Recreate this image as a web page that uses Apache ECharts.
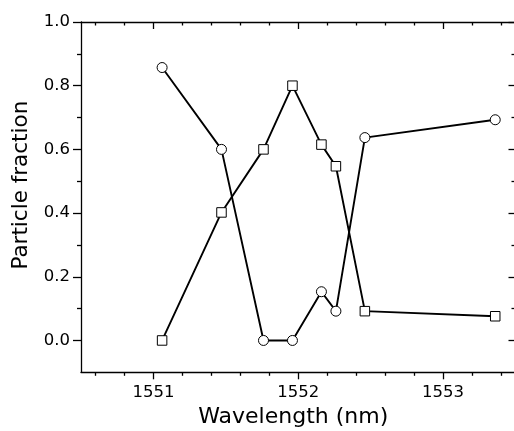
<!DOCTYPE html>
<html>
<head>
<meta charset="utf-8">
<script src="https://cdn.jsdelivr.net/npm/echarts@6/dist/echarts.min.js"></script>
<style>
html,body{margin:0;padding:0;background:#fff;}
#chart{width:514px;height:431px;}
</style>
</head>
<body>
<div id="chart"></div>
<script>
// Data
var wavelength = [1551.06, 1551.47, 1551.76, 1551.96, 1552.16, 1552.26, 1552.46, 1553.36];
var circleFraction = [0.857, 0.600, 0.000, 0.000, 0.153, 0.092, 0.637, 0.693];
var squareFraction = [0.000, 0.402, 0.600, 0.800, 0.615, 0.547, 0.092, 0.076];

// Tick values
var xMajorTicks = [1551, 1552, 1553];
var xMinorTicks = [1550.6, 1550.8, 1551.2, 1551.4, 1551.6, 1551.8, 1552.2, 1552.4, 1552.6, 1552.8, 1553.2, 1553.4];
var yMajorTicks = [0.0, 0.2, 0.4, 0.6, 0.8, 1.0];
var yMinorTicks = [0.1, 0.3, 0.5, 0.7, 0.9];

var xTitle = 'Wavelength (nm)';
var yTitle = 'Particle fraction';

var FONT = 'DejaVu Sans';
var AX = {color: '#000', width: 1.3};

function pairs(xs, ys) {
  return xs.map(function (x, i) { return [x, ys[i]]; });
}

function xAx(opts) {
  return Object.assign({
    type: 'value', min: 1550.5, max: 1553.5,
    splitLine: {show: false},
    axisLine: {show: false, onZero: false, lineStyle: AX},
    axisTick: {show: false},
    axisLabel: {show: false}
  }, opts);
}
function yAx(opts) {
  return Object.assign({
    type: 'value', min: -0.1, max: 1.0,
    splitLine: {show: false},
    axisLine: {show: false, onZero: false, lineStyle: AX},
    axisTick: {show: false},
    axisLabel: {show: false}
  }, opts);
}

var chart = echarts.init(document.getElementById('chart'), null, {renderer: 'canvas'});
chart.setOption({
  animation: false,
  backgroundColor: '#fff',
  grid: {left: 81, top: 22, right: -1.5, bottom: 58.7, containLabel: false, outerBoundsMode: 'none'},
  xAxis: [
    xAx({
      position: 'bottom',
      axisLine: {show: true, onZero: false, lineStyle: AX},
      axisTick: {show: true, inside: false, length: 7, customValues: xMajorTicks, lineStyle: AX},
      axisLabel: {show: true, customValues: xMajorTicks, margin: 12, color: '#000', fontFamily: FONT, fontSize: 16.5,
        formatter: function (v) { return String(Math.round(v)); }},
      name: xTitle, nameLocation: 'middle', nameGap: 23,
      nameTextStyle: {color: '#000', fontFamily: FONT, fontSize: 22, padding: [0, 10, 0, 0]}
    }),
    xAx({
      position: 'bottom',
      axisTick: {show: true, inside: false, length: 3.5, customValues: xMinorTicks, lineStyle: AX}
    }),
    xAx({
      position: 'top',
      axisLine: {show: true, onZero: false, lineStyle: AX},
      axisTick: {show: true, inside: true, length: 7, customValues: xMajorTicks, lineStyle: AX}
    }),
    xAx({
      position: 'top',
      axisTick: {show: true, inside: true, length: 3.5, customValues: xMinorTicks, lineStyle: AX}
    })
  ],
  yAxis: [
    yAx({
      position: 'left',
      axisLine: {show: true, onZero: false, lineStyle: AX},
      axisTick: {show: true, inside: false, length: 8, customValues: yMajorTicks, lineStyle: AX},
      axisLabel: {show: true, customValues: yMajorTicks, margin: 11, color: '#000', fontFamily: FONT, fontSize: 16.5,
        formatter: function (v) { return v.toFixed(1); }},
      name: yTitle, nameLocation: 'middle', nameGap: 46,
      nameTextStyle: {color: '#000', fontFamily: FONT, fontSize: 21.5, padding: [0, 0, 0, 24]}
    }),
    yAx({
      position: 'left',
      axisTick: {show: true, inside: false, length: 4, customValues: yMinorTicks, lineStyle: AX}
    }),
    yAx({
      position: 'right',
      axisLine: {show: true, onZero: false, lineStyle: AX},
      axisTick: {show: true, inside: true, length: 7, customValues: yMajorTicks, lineStyle: AX}
    }),
    yAx({
      position: 'right',
      axisTick: {show: true, inside: true, length: 4, customValues: yMinorTicks, lineStyle: AX}
    })
  ],
  series: [
    {
      name: 'circles', type: 'line', xAxisIndex: 0, yAxisIndex: 0,
      data: pairs(wavelength, circleFraction),
      symbol: 'circle', symbolSize: 10, showAllSymbol: true,
      lineStyle: {color: '#000', width: 1.9},
      itemStyle: {color: '#fff', borderColor: '#000', borderWidth: 1},
      emphasis: {disabled: true}, z: 3
    },
    {
      name: 'squares', type: 'line', xAxisIndex: 0, yAxisIndex: 0,
      data: pairs(wavelength, squareFraction),
      symbol: 'rect', symbolSize: 9.5, showAllSymbol: true,
      lineStyle: {color: '#000', width: 1.9},
      itemStyle: {color: '#fff', borderColor: '#000', borderWidth: 1},
      emphasis: {disabled: true}, z: 3
    }
  ]
});
</script>
</body>
</html>
